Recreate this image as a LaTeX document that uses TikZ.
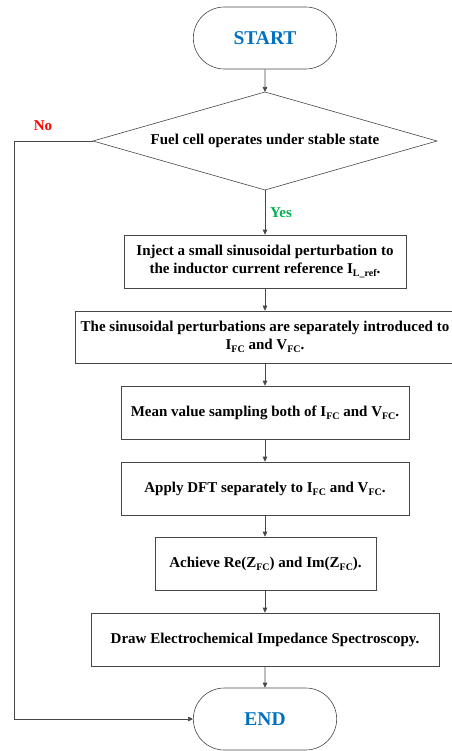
\documentclass[tikz,border=0pt]{standalone}
\usepackage{fontspec}
\setmainfont{Liberation Serif}
\usetikzlibrary{shapes.geometric,shapes.misc,arrows.meta}
\newcommand\lowsub[1]{\raisebox{-0.45ex}{\fontsize{10}{11}\selectfont #1}}
\definecolor{lc}{RGB}{70,70,70}
\definecolor{tblue}{RGB}{0,112,192}
\definecolor{tred}{RGB}{255,0,0}
\definecolor{tgreen}{RGB}{0,176,80}
\tikzset{
  every node/.style={font=\fontsize{15}{18}\selectfont\bfseries},
  term/.style={draw=lc, line width=0.6pt, rounded rectangle, minimum width=150pt, minimum height=62pt, text=tblue, font=\fontsize{19.5}{22}\selectfont\bfseries},
  stepbox/.style={draw=lc, line width=0.6pt, rectangle, align=center, inner sep=2pt},
  conn/.style={draw=lc, line width=0.6pt, -{Triangle[length=5pt,width=4.5pt]}},
}
\begin{document}
\begin{tikzpicture}[x=1pt,y=-1pt]
\useasboundingbox (0,0) rectangle (451,751);
\node[term] (start) at (265,38) {START};
\coordinate (dtop) at (265,92);
\coordinate (dbot) at (265,190);
\coordinate (dl) at (93,141);
\coordinate (dr) at (437,141);
\draw[draw=lc, line width=0.6pt] (dtop) -- (dr) -- (dbot) -- (dl) -- cycle;
\node (dec) at (265,141) {Fuel cell operates under stable state};
\node[stepbox, minimum width=282pt, minimum height=53pt] (b1) at (265,261.5) {Inject a small sinusoidal perturbation to\\the inductor current reference I\lowsub{L\_ref}.};
\node[stepbox, minimum width=380pt, minimum height=52pt] (b2) at (265,337) {The sinusoidal perturbations are separately introduced to\\I\lowsub{FC} and V\lowsub{FC}.};
\node[stepbox, minimum width=288pt, minimum height=53pt] (b3) at (265,412.5) {Mean value sampling both of I\lowsub{FC} and V\lowsub{FC}.};
\node[stepbox, minimum width=288pt, minimum height=53pt] (b4) at (265,488.5) {Apply DFT separately to I\lowsub{FC} and V\lowsub{FC}.};
\node[stepbox, minimum width=221pt, minimum height=53pt] (b5) at (265.5,563.5) {Achieve Re(Z\lowsub{FC}) and Im(Z\lowsub{FC}).};
\node[stepbox, minimum width=348pt, minimum height=53pt] (b6) at (265,639.5) {Draw Electrochemical Impedance Spectroscopy.};
\node[term] (end) at (265,719) {END};
\draw[conn] (start) -- (dtop);
\draw[conn] (dbot) -- (b1);
\draw[conn] (b1) -- (b2);
\draw[conn] (b2) -- (b3);
\draw[conn] (b3) -- (b4);
\draw[conn] (b4) -- (b5.north -| b4.south);
\draw[conn] (b5.south -| b6.north) -- (b6);
\draw[conn] (b6) -- (end);
\coordinate (nocorner) at (14,141);
\coordinate (nobot) at (14,719);
\draw[conn] (dl) -- (nocorner) -- (nobot) -- (end.west);
\node[text=tred] (no) at (43,126) {No};
\node[text=tgreen] (yes) at (281,213) {Yes};
\end{tikzpicture}
\end{document}
